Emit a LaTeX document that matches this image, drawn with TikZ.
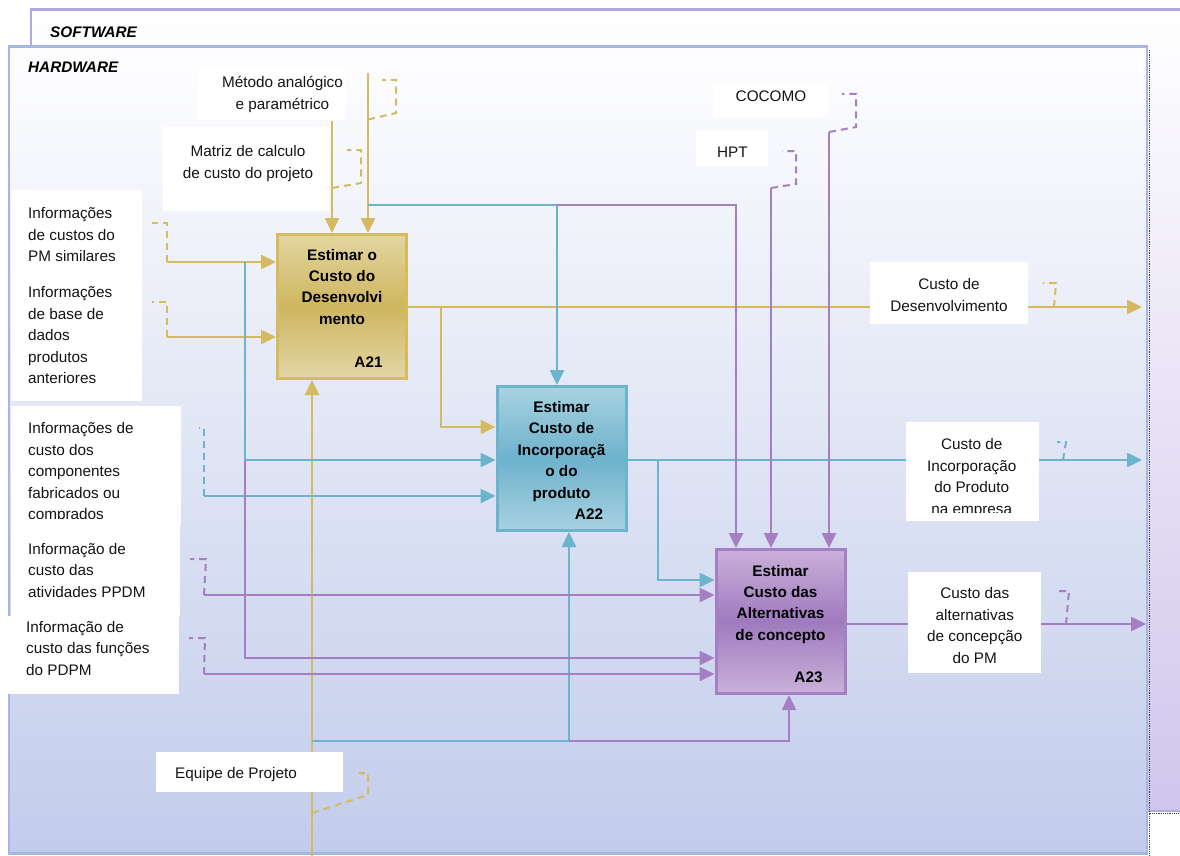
\documentclass[tikz,border=0pt]{standalone}
\usepackage{fontspec}
\setmainfont{Liberation Sans}
\usetikzlibrary{arrows.meta}
\definecolor{gld}{RGB}{212,187,98}
\definecolor{blu}{RGB}{108,180,205}
\definecolor{pur}{RGB}{166,126,196}
\definecolor{hwb}{RGB}{166,182,228}
\definecolor{hwf}{RGB}{194,204,235}
\definecolor{swb}{RGB}{180,168,224}
\definecolor{swf}{RGB}{208,198,236}
\definecolor{txt}{RGB}{20,20,20}
\definecolor{gtop}{RGB}{226,213,160}
\definecolor{gmid}{RGB}{206,182,96}
\definecolor{gbot}{RGB}{226,214,165}
\definecolor{btop}{RGB}{168,210,225}
\definecolor{bmid}{RGB}{110,178,204}
\definecolor{bbot}{RGB}{168,210,225}
\definecolor{ptop}{RGB}{201,176,217}
\definecolor{pmid}{RGB}{160,122,191}
\definecolor{pbot}{RGB}{201,178,217}
\begin{document}
\begin{tikzpicture}[x=1pt,y=-1pt,
  conn/.style={line width=2.5pt},
  arr/.style={-{Triangle[length=15pt,width=14pt]}},
  sq/.style={line width=2pt,dash pattern=on 7pt off 5pt},
  lbl/.style={inner sep=0pt,anchor=north west,align=left,text=txt,font=\fontsize{15.3}{21.5}\selectfont},
  lblc/.style={inner sep=0pt,anchor=north,align=center,text=txt,font=\fontsize{15.3}{21.5}\selectfont},
  ttl/.style={inner sep=0pt,anchor=north,align=center,text=black,font=\bfseries\fontsize{15.3}{21.4}\selectfont},
  aid/.style={inner sep=0pt,anchor=base,text=black,font=\bfseries\fontsize{15.3}{18}\selectfont},
  frm/.style={inner sep=0pt,anchor=west,text=black,font=\bfseries\itshape\fontsize{15.3}{18}\selectfont},
  abox/.style={line width=3pt,minimum width=129pt,minimum height=144pt,inner sep=0pt},
]
\useasboundingbox (0,0) rectangle (1180,856);
\clip (0,0) rectangle (1180,856);
% frames
\draw[draw=swb,line width=2.5pt,top color=white,bottom color=swf] (31,9.5) rectangle (1215,811);
\draw[black!75,densely dotted,line width=1.2pt] (1149.5,50) -- (1149.5,856);
\draw[black!75,densely dotted,line width=1.2pt] (1149.5,813.5) -- (1180,813.5);
\draw[draw=hwb,line width=2.5pt,top color={rgb,255:red,254;green,254;blue,255},bottom color=hwf] (9,46.5) rectangle (1147,853.5);
\node[frm] (sw) at (50,32) {SOFTWARE};
\node[frm] (hw) at (28,67.7) {HARDWARE};
% activity boxes
\node[abox,draw=gld,top color=gtop,bottom color=gbot,middle color=gmid] (A21) at (342,306.5) {};
\node[abox,draw=blu,top color=btop,bottom color=bbot,middle color=bmid] (A22) at (561.5,458.5) {};
\node[abox,draw=pur,top color=ptop,bottom color=pbot,middle color=pmid] (A23) at (780.5,621.5) {};
% coordinates
\coordinate (gMs) at (368,73);
\coordinate (gXs) at (332,121);
\coordinate (gIs) at (167,262);
\coordinate (gBs) at (167,337);
\coordinate (gOe) at (1142,307);
\coordinate (gBr) at (441,307);
\coordinate (gIn) at (441,427);
\coordinate (gEs) at (312,860);
\coordinate (bTs) at (368,205);
\coordinate (bTc) at (557,205);
\coordinate (pTc) at (736,205);
\coordinate (bLs) at (245,262);
\coordinate (bLc) at (245,460);
\coordinate (pLc) at (245,658);
\coordinate (bCs) at (204,496);
\coordinate (bOe) at (1142,460);
\coordinate (bBr) at (658,460);
\coordinate (bBc) at (658,580);
\coordinate (bEs) at (312,741);
\coordinate (bEc) at (569,741);
\coordinate (pEc) at (789,741);
\coordinate (pHs) at (771,188);
\coordinate (pCs) at (829,132);
\coordinate (pAs) at (204,595);
\coordinate (pFs) at (204,674);
\coordinate (pOe) at (1146,624);
% gold connectors
\draw[gld,conn,arr] (gMs) -- (gMs |- A21.north);
\draw[gld,conn,arr] (gXs) -- (gXs |- A21.north);
\draw[gld,conn,arr] (gIs) -- (gIs -| A21.west);
\draw[gld,conn,arr] (gBs) -- (gBs -| A21.west);
\draw[gld,conn,arr] (A21.east |- gOe) -- (gOe);
\draw[gld,conn,arr] (gBr) |- (A22.west |- gIn);
\draw[gld,conn,arr] (gEs) -- (gEs |- A21.south);
% blue connectors
\draw[blu,conn,arr] (bTs) -- (bTc) -- (bTc |- A22.north);
\draw[blu,conn,arr] (bLs) -- (bLc) -- (bLc -| A22.west);
\draw[blu,conn,arr] (bCs) -- (bCs -| A22.west);
\draw[blu,conn,arr] (A22.east |- bOe) -- (bOe);
\draw[blu,conn,arr] (bBr) |- (A23.west |- bBc);
\draw[blu,conn,arr] (bEs) -- (bEc) -- (bEc |- A22.south);
% purple connectors
\draw[pur,conn,arr] (bTc) -- (pTc) -- (pTc |- A23.north);
\draw[pur,conn,arr] (bLc) -- (pLc) -- (pLc -| A23.west);
\draw[pur,conn,arr] (bEc) -- (pEc) -- (pEc |- A23.south);
\draw[pur,conn,arr] (pHs) -- (pHs |- A23.north);
\draw[pur,conn,arr] (pCs) -- (pCs |- A23.north);
\draw[pur,conn,arr] (pAs) -- (pAs -| A23.west);
\draw[pur,conn,arr] (pFs) -- (pFs -| A23.west);
\draw[pur,conn,arr] (A23.east |- pOe) -- (pOe);
% squiggles
\draw[gld,sq] (368,119.5) -- (396,113) -- (396,80) -- (382,80);
\draw[gld,sq] (332,188) -- (361,183) -- (361,150) -- (347,150);
\draw[gld,sq] (gIs) -- (167,223) -- (152,223);
\draw[gld,sq] (gBs) -- (167,302) -- (152,302);
\draw[gld,sq] (1054,307) -- (1056,283) -- (1043,283);
\draw[gld,sq] (312,813) -- (368,795) -- (368,773) -- (359,773);
\draw[blu,sq] (bCs) -- (204,428) -- (199,428);
\draw[blu,sq] (1063,460) -- (1066,442) -- (1057,442);
\draw[pur,sq] (pHs) -- (796,184) -- (796,151) -- (782,151);
\draw[pur,sq] (pCs) -- (856,127) -- (856,94) -- (842,94);
\draw[pur,sq] (pAs) -- (206,559) -- (190,559);
\draw[pur,sq] (pFs) -- (205,638) -- (189,638);
\draw[pur,sq] (1066,624) -- (1069,591) -- (1059,591);
% white label boxes
\fill[white] (198,67) rectangle (345,120);
\fill[white] (163,127) rectangle (329,211);
\fill[white] (10.5,190) rectangle (142,401);
\fill[white] (10.5,406) rectangle (181,525);
\fill[white] (10.5,525) rectangle (180,616);
\fill[white] (8,616) rectangle (179,694);
\fill[white] (156,752) rectangle (343,792);
\fill[white] (713,83) rectangle (828,117);
\fill[white] (696,131) rectangle (768,166);
\fill[white] (870,262) rectangle (1028,324);
\fill[white] (906,422) rectangle (1039,521);
\fill[white] (908,572) rectangle (1041,673);
% label texts
\node[lblc] (tMet) at (282.5,72.3) {\strut Método analógico\\e paramétrico\strut};
\node[lblc] (tMat) at (248,141.5) {\strut Matriz de calculo\\de custo do projeto\strut};
\node[lbl] (tSim) at (28,203.3) {\strut Informações\\de custos do\\PM similares\strut};
\node[lbl] (tBas) at (28,282.3) {\strut Informações\\de base de\\dados\\produtos\\anteriores\strut};
\begin{scope}
\clip (10,406) rectangle (181,518);
\node[lbl] (tCmp) at (28,418.3) {\strut Informações de\\custo dos\\componentes\\fabricados ou\\comprados\strut};
\end{scope}
\node[lbl] (tAtv) at (28,539) {\strut Informação de\\custo das\\atividades PPDM\strut};
\node[lbl] (tFun) at (26,617) {\strut Informação de\\custo das funções\\do PDPM\strut};
\node[lbl] (tEqp) at (175,763.3) {\strut Equipe de Projeto\strut};
\node[aid,font=\fontsize{15.3}{18}\selectfont,text=txt] (tCoc) at (771,101.7) {COCOMO};
\node[aid,font=\fontsize{15.3}{18}\selectfont,text=txt] (tHpt) at (732.3,157.3) {HPT};
\node[lblc] (tDes) at (949,274.3) {\strut Custo de\\Desenvolvimento\strut};
\begin{scope}
\clip (906,422) rectangle (1039,512);
\node[lblc] (tInc) at (971.7,434.3) {\strut Custo de\\Incorporação\\do Produto\\na empresa\strut};
\end{scope}
\node[lblc] (tAlt) at (974.8,583.3) {\strut Custo das\\alternativas\\de concepção\\do PM\strut};
% box titles
\node[ttl] (h21) at (342,245) {\strut Estimar o\\Custo do\\Desenvolvi\\mento\strut};
\node[aid] (i21) at (368.5,367) {A21};
\node[ttl] (h22) at (561.5,397.3) {\strut Estimar\\Custo de\\Incorporaçã\\o do\\produto\strut};
\node[aid] (i22) at (589,519.3) {A22};
\node[ttl] (h23) at (780.5,561) {\strut Estimar\\Custo das\\Alternativas\\de concepto\strut};
\node[aid] (i23) at (808.5,682.7) {A23};
\end{tikzpicture}
\end{document}
